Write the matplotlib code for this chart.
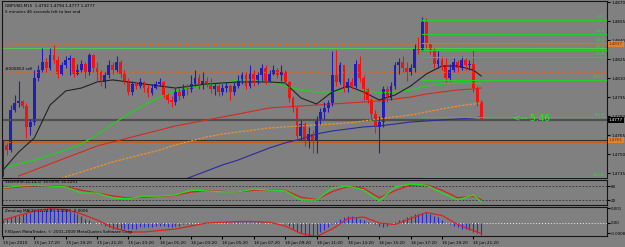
import matplotlib
matplotlib.use("Agg")
import matplotlib.pyplot as plt
import numpy as np

# ---- data (GBPUSD M15) ----
first_open = 1.4737
closes = [1.4757, 1.4753, 1.4785, 1.4790, 1.4792, 1.4788, 1.4771, 1.4775, 1.4810, 1.4816,
          1.4823, 1.4818, 1.4828, 1.4824, 1.4813, 1.4820, 1.4824, 1.4826, 1.4813, 1.4816,
          1.4821, 1.4815, 1.4828, 1.4818, 1.4815, 1.4807, 1.4812, 1.4820, 1.4816, 1.4823,
          1.4813, 1.4808, 1.4799, 1.4805, 1.4804, 1.4807, 1.4802, 1.4798, 1.4802, 1.4805,
          1.4807, 1.4797, 1.4793, 1.4791, 1.4799, 1.4796, 1.4802, 1.4801, 1.4805, 1.4810,
          1.4804, 1.4808, 1.4805, 1.4801, 1.4804, 1.4799, 1.4802, 1.4804, 1.4799, 1.4804,
          1.4808, 1.4812, 1.4804, 1.4813, 1.4807, 1.4812, 1.4818, 1.4808, 1.4813, 1.4816,
          1.4812, 1.4815, 1.4807, 1.4794, 1.4786, 1.4764, 1.4774, 1.4760, 1.4766, 1.4761,
          1.4777, 1.4783, 1.4786, 1.4790, 1.4812, 1.4807, 1.4820, 1.4802, 1.4807, 1.4804,
          1.4821, 1.4810, 1.4801, 1.4793, 1.4782, 1.4771, 1.4775, 1.4801, 1.4794, 1.4804,
          1.4820, 1.4823, 1.4818, 1.4815, 1.4818, 1.4834, 1.4832, 1.4854, 1.4837, 1.4832,
          1.4821, 1.4824, 1.4820, 1.4810, 1.4816, 1.4823, 1.4818, 1.4824, 1.4820, 1.4821,
          1.4802, 1.4791, 1.4777]
highs = [1.4761, 1.4759, 1.4789, 1.4797, 1.4808, 1.4793, 1.4790, 1.4778, 1.4816, 1.4820,
         1.4834, 1.4826, 1.4834, 1.4836, 1.4827, 1.4823, 1.4827, 1.4828, 1.4826, 1.4821,
         1.4824, 1.4823, 1.4830, 1.4829, 1.4823, 1.4816, 1.4815, 1.4824, 1.4823, 1.4827,
         1.4824, 1.4816, 1.4810, 1.4808, 1.4807, 1.4810, 1.4808, 1.4805, 1.4805, 1.4808,
         1.4810, 1.4808, 1.4798, 1.4796, 1.4802, 1.4802, 1.4805, 1.4805, 1.4812, 1.4816,
         1.4813, 1.4815, 1.4811, 1.4810, 1.4806, 1.4805, 1.4805, 1.4807, 1.4805, 1.4807,
         1.4812, 1.4815, 1.4815, 1.4820, 1.4816, 1.4815, 1.4821, 1.4820, 1.4816, 1.4820,
         1.4818, 1.4820, 1.4816, 1.4808, 1.4796, 1.4788, 1.4777, 1.4775, 1.4771, 1.4769,
         1.4780, 1.4786, 1.4791, 1.4793, 1.4831, 1.4832, 1.4823, 1.4820, 1.4810, 1.4810,
         1.4824, 1.4827, 1.4812, 1.4802, 1.4794, 1.4785, 1.4780, 1.4804, 1.4804, 1.4807,
         1.4823, 1.4826, 1.4827, 1.4823, 1.4821, 1.4837, 1.4842, 1.4858, 1.4857, 1.4838,
         1.4834, 1.4831, 1.4827, 1.4826, 1.4821, 1.4826, 1.4824, 1.4827, 1.4826, 1.4824,
         1.4832, 1.4804, 1.4793]
lows = [1.4733, 1.4749, 1.4752, 1.4783, 1.4787, 1.4786, 1.4763, 1.4765, 1.4773, 1.4808,
        1.4815, 1.4815, 1.4816, 1.4822, 1.4810, 1.4812, 1.4818, 1.4812, 1.4811, 1.4812,
        1.4815, 1.4810, 1.4812, 1.4815, 1.4808, 1.4804, 1.4802, 1.4810, 1.4813, 1.4815,
        1.4810, 1.4805, 1.4797, 1.4797, 1.4801, 1.4802, 1.4799, 1.4795, 1.4797, 1.4801,
        1.4804, 1.4794, 1.4790, 1.4787, 1.4789, 1.4793, 1.4794, 1.4797, 1.4799, 1.4804,
        1.4801, 1.4801, 1.4803, 1.4798, 1.4797, 1.4796, 1.4797, 1.4799, 1.4793, 1.4797,
        1.4802, 1.4805, 1.4801, 1.4802, 1.4804, 1.4805, 1.4808, 1.4805, 1.4807, 1.4812,
        1.4810, 1.4808, 1.4805, 1.4791, 1.4783, 1.4761, 1.4761, 1.4756, 1.4755, 1.4751,
        1.4751, 1.4774, 1.4778, 1.4783, 1.4788, 1.4804, 1.4805, 1.4799, 1.4799, 1.4801,
        1.4802, 1.4807, 1.4793, 1.4790, 1.4778, 1.4767, 1.4751, 1.4771, 1.4791, 1.4793,
        1.4801, 1.4813, 1.4815, 1.4808, 1.4812, 1.4815, 1.4829, 1.4831, 1.4834, 1.4829,
        1.4818, 1.4818, 1.4816, 1.4807, 1.4808, 1.4815, 1.4815, 1.4816, 1.4816, 1.4816,
        1.4799, 1.4788, 1.4776]

# moving averages, sampled every 4 bars
ma_black_idx = list(range(0, 121, 4)) + [122]
ma_black = [1.47374, 1.47516, 1.47627, 1.47887, 1.47998, 1.48021, 1.48069, 1.48085,
            1.48069, 1.48053, 1.48037, 1.48021, 1.48037, 1.48053, 1.48061, 1.48069,
            1.48069, 1.48069, 1.48061, 1.47943, 1.47895, 1.47990, 1.48037, 1.47990,
            1.47927, 1.47966, 1.48037, 1.48132, 1.48195, 1.48195, 1.48163, 1.48116]
ma_green_idx = list(range(0, 121, 4)) + [122]
ma_green = [1.47390, 1.47422, 1.47453, 1.47493, 1.47532, 1.47580, 1.47651, 1.47737,
            1.47816, 1.47887, 1.47950, 1.47998, 1.48029, 1.48045, 1.48061, 1.48085,
            1.48085, 1.48069, 1.48037, 1.48006, 1.47990, 1.47990, 1.48014, 1.48006,
            1.47982, 1.47990, 1.48006, 1.48037, 1.48053, 1.48061, 1.48061, 1.48053]
ma_red_idx = list(range(4, 121, 4)) + [122]
ma_red = [1.47327, 1.47374, 1.47422, 1.47469, 1.47516, 1.47564, 1.47595, 1.47627,
          1.47659, 1.47690, 1.47722, 1.47745, 1.47769, 1.47793, 1.47816, 1.47840,
          1.47864, 1.47872, 1.47879, 1.47887, 1.47895, 1.47903, 1.47911, 1.47919,
          1.47935, 1.47950, 1.47974, 1.47990, 1.48006, 1.48014, 1.48021]
ma_orange_idx = [14] + list(range(16, 121, 4)) + [122]
ma_orange = [1.47296, 1.47320, 1.47359, 1.47398, 1.47438, 1.47469, 1.47501, 1.47532,
             1.47572, 1.47603, 1.47635, 1.47659, 1.47674, 1.47690, 1.47706, 1.47714,
             1.47722, 1.47730, 1.47737, 1.47745, 1.47761, 1.47777, 1.47793, 1.47808,
             1.47832, 1.47856, 1.47879, 1.47895, 1.47903]
ma_blue_idx = [46] + list(range(48, 121, 4)) + [122]
ma_blue = [1.47296, 1.47320, 1.47367, 1.47414, 1.47453, 1.47501, 1.47548, 1.47588,
           1.47619, 1.47659, 1.47682, 1.47698, 1.47714, 1.47722, 1.47737, 1.47753,
           1.47761, 1.47769, 1.47777, 1.47785, 1.47793]

# horizontal levels
lvl_orange_dot = 1.4837
lvl_green = 1.4834
lvl_sell = 1.4815
lvl_bid = 1.4777
lvl_orange_solid = 1.4761

# fibonacci
fib_start_bar = 107
fib_high = 1.4856
fib_low = 1.48085
fib_levels = [0.0, 23.6, 38.2, 50.0, 61.8, 100.0, 161.8, 261.8]

price_ticks = [1.4870, 1.4855, 1.4840, 1.4825, 1.4810, 1.4795, 1.4780, 1.4765, 1.4750, 1.4735]

# stochastic, every 4 bars
stoch_idx = list(range(0, 121, 4)) + [122]
stoch_main = [72, 80, 84, 80, 76, 50, 50, 29, 25, 37, 37, 42, 63, 59, 55, 55,
              67, 63, 59, 20, 20, 72, 80, 63, 16, 76, 89, 84, 50, 20, 42, 12]
stoch_signal = [70, 76, 82, 82, 78, 62, 50, 38, 28, 32, 36, 40, 54, 60, 57, 55,
                62, 64, 61, 32, 22, 56, 78, 70, 30, 60, 84, 86, 62, 30, 36, 22]

# zero lag macd (x 1e-4)
macd_hist = [2, 3, 4, 5, 5, 6, 7, 7, 8, 8, 9, 9, 10, 10, 9, 9, 9, 8, 7, 6, 5, 3, 2, 1,
             0, -1, -2, -3, -4, -4, -4, -4, -4, -4, -4, -3, -3, -3, -3, -2,
             -2, -2, -3, -3, -2, -2, -1, -1, -1, 0, 0, 0, 0, 0, 0, 0,
             0, 1, 1, 1, 1, 1, 1, 1, 1, 1, 1, 0, 0, 0, 0, 0,
             -1, -2, -4, -6, -7, -8, -9, -9, -8, -6, -5, -3, -1, 1, 3, 4,
             5, 5, 4, 3, 2, 1, 0, -1, -2, -3, -2, -1, 1, 2, 3, 4,
             5, 6, 6, 7, 7, 6, 5, 4, 2, 0, -1, -2, -3, -4, -4, -5, -6, -7, -8]
macd_sig_idx = list(range(0, 121, 4)) + [122]
macd_signal = [2, 5, 8, 9.5, 9, 6, 2, -3, -6, -6, -5, -4, -2, 0, 0.5, 1,
               1, 0.5, -2, -7, -9, -4, 3, 4, 0, -1, 3, 7, 5, -1, -5, -7]

time_bars = list(range(0, 121, 8))
time_labels = ["15 Jun 2010", "15 Jun 17:20", "15 Jun 19:20", "15 Jun 21:20", "15 Jun 23:20",
               "16 Jun 01:20", "16 Jun 03:20", "16 Jun 05:20", "16 Jun 07:20", "16 Jun 09:20",
               "16 Jun 11:20", "16 Jun 13:20", "16 Jun 15:20", "16 Jun 17:20", "16 Jun 19:20",
               "16 Jun 21:20"]

# ---- figure ----
W, H = 625, 247
BG = "#808080"
FS = 3.0
fig = plt.figure(figsize=(W / 100, H / 100), dpi=100, facecolor=BG)


def px_rect(x0, y0, x1, y1):
    return [x0 / W, 1 - y1 / H, (x1 - x0) / W, (y1 - y0) / H]


ax = fig.add_axes(px_rect(2, 1, 607, 178))
ax_st = fig.add_axes(px_rect(2, 180, 607, 205), sharex=ax)
ax_md = fig.add_axes(px_rect(2, 207, 607, 236), sharex=ax)

for a in (ax, ax_st, ax_md):
    a.set_facecolor(BG)
    for s in a.spines.values():
        s.set_color("#151515")
        s.set_linewidth(0.8)
    a.yaxis.tick_right()
    a.tick_params(axis="y", labelsize=FS, length=2, pad=1, colors="black")

ax.set_xlim(-0.25, 154.1)
ax.set_ylim(1.47311, 1.48708)

# horizontal lines
ax.axhline(lvl_orange_dot, color="#e07020", lw=0.8, ls=(0, (1, 1.5)))
ax.axhline(lvl_green, color="#50c850", lw=0.7)
ax.axhline(lvl_sell, color="#e06020", lw=0.8, ls=(0, (3, 3)))
ax.axhline(lvl_bid, color="#505050", lw=1.6)
ax.axhline(lvl_orange_solid, color="#303030", lw=0.8)
ax.axhline(lvl_orange_solid - 0.00015, color="#c06020", lw=0.8)

# moving averages
ax.plot(ma_blue_idx, ma_blue, color="#2a2aa0", lw=0.8)
ax.plot(ma_orange_idx, ma_orange, color="#f0902a", lw=0.9, ls=(0, (2, 1)))
ax.plot(ma_red_idx, ma_red, color="#d82a1a", lw=0.8)
ax.plot(ma_green_idx, ma_green, color="#20d020", lw=0.9)
ax.plot(ma_black_idx, ma_black, color="#222222", lw=0.8)

# candles
bars = np.arange(len(closes))
c = np.array(closes)
o = np.array([first_open] + closes[:-1])
up = c >= o
cols = np.where(up, "#2020b8", "#f01414")
ax.vlines(bars, lows, highs, colors=cols, lw=0.8)
body = np.maximum(np.abs(c - o), 0.00005)
ax.bar(bars, body, bottom=np.minimum(o, c), width=0.72, color=cols, lw=0)

# fibonacci lines
fib_rng = fib_high - fib_low
for lv in fib_levels:
    p = fib_high - fib_rng * lv / 100
    ax.plot([fib_start_bar, 153.8], [p, p], color="#28cc28", lw=0.8)
    ax.text(153.5, p + 0.00004, f"{lv:.1f}", color="#30d830", fontsize=FS,
            ha="right", va="bottom")

# texts
ax.text(0.6, 1.48668, "GBPUSD,M15  1.4792 1.4794 1.4777 1.4777", fontsize=FS,
        color="black", va="center")
ax.text(0.6, 1.48620, "5 minutes 46 seconds left to bar end", fontsize=FS,
        color="black", va="center")
ax.text(0.5, lvl_sell + 0.00020, "#005853 sell", fontsize=FS, color="black", va="center")
ax.text(130, lvl_bid + 0.00008, "<-- 5.46", fontsize=6.5, color="#22ee22", va="center")

ax.set_yticks(price_ticks)
ax.set_yticklabels([f"{p:.4f}" for p in price_ticks])
ytr = ax.get_yaxis_transform()
ax.text(1.003, lvl_bid, f"{lvl_bid:.4f}", transform=ytr, fontsize=FS, color="white",
        va="center", bbox=dict(fc="black", ec="none", pad=0.5))
ax.text(1.003, lvl_orange_dot, f"{lvl_orange_dot:.4f}", transform=ytr, fontsize=FS,
        color="#603010", va="center", bbox=dict(fc="#e08030", ec="none", pad=0.5))
ax.text(1.003, lvl_orange_solid, f"{lvl_orange_solid:.4f}", transform=ytr, fontsize=FS,
        color="#603010", va="center", bbox=dict(fc="#e08030", ec="none", pad=0.5))
ax.tick_params(axis="x", bottom=False, labelbottom=False)

# stochastic panel
ax_st.set_ylim(-1.3, 105.9)
ax_st.axhline(80, color="#303030", lw=0.6, ls=(0, (2, 2)))
ax_st.axhline(20, color="#303030", lw=0.6, ls=(0, (2, 2)))
ax_st.plot(stoch_idx, stoch_signal, color="#e02020", lw=0.9)
ax_st.plot(stoch_idx, stoch_main, color="#20e020", lw=0.9)
ax_st.set_yticks([80, 20])
ax_st.set_yticklabels(["80", "20"])
ax_st.tick_params(axis="x", bottom=False, labelbottom=False)
ax_st.text(0.6, 97, "StochRSI(14,14,5) 14.0095 14.2251", fontsize=FS, color="black",
           va="center")

# macd panel
ax_md.set_ylim(-0.000867, 0.001067)
ax_md.axhline(0, color="#f0f0f0", lw=0.7, ls=(0, (1, 2)))
ax_md.vlines(bars, 0, np.array(macd_hist) * 1e-4, colors="#2828e0", lw=0.8)
ax_md.plot(macd_sig_idx, np.array(macd_signal) * 1e-4, color="#e02020", lw=0.9)
ax_md.set_yticks([0.001, 0.0, -0.0007])
ax_md.set_yticklabels(["0.001", "0.00", "-0.0008"])
ax_md.tick_params(axis="y", labelsize=2.8, pad=0.5)
ax_md.text(0.6, 0.00082, "ZeroLag MACD(12,24,9) -0.0007 -0.0006", fontsize=FS,
           color="black", va="center")
ax_md.text(0.6, -0.00060, "FXOpen MetaTrader, \u00a9 2001-2009 MetaQuotes Software Corp.",
           fontsize=FS, color="black", va="center")
ax_md.set_xticks(time_bars)
ax_md.set_xticklabels(time_labels, fontsize=FS, ha="left")
ax_md.tick_params(axis="x", length=2, pad=1.5, colors="black")

fig.savefig("out.png", dpi=100, facecolor=BG)
